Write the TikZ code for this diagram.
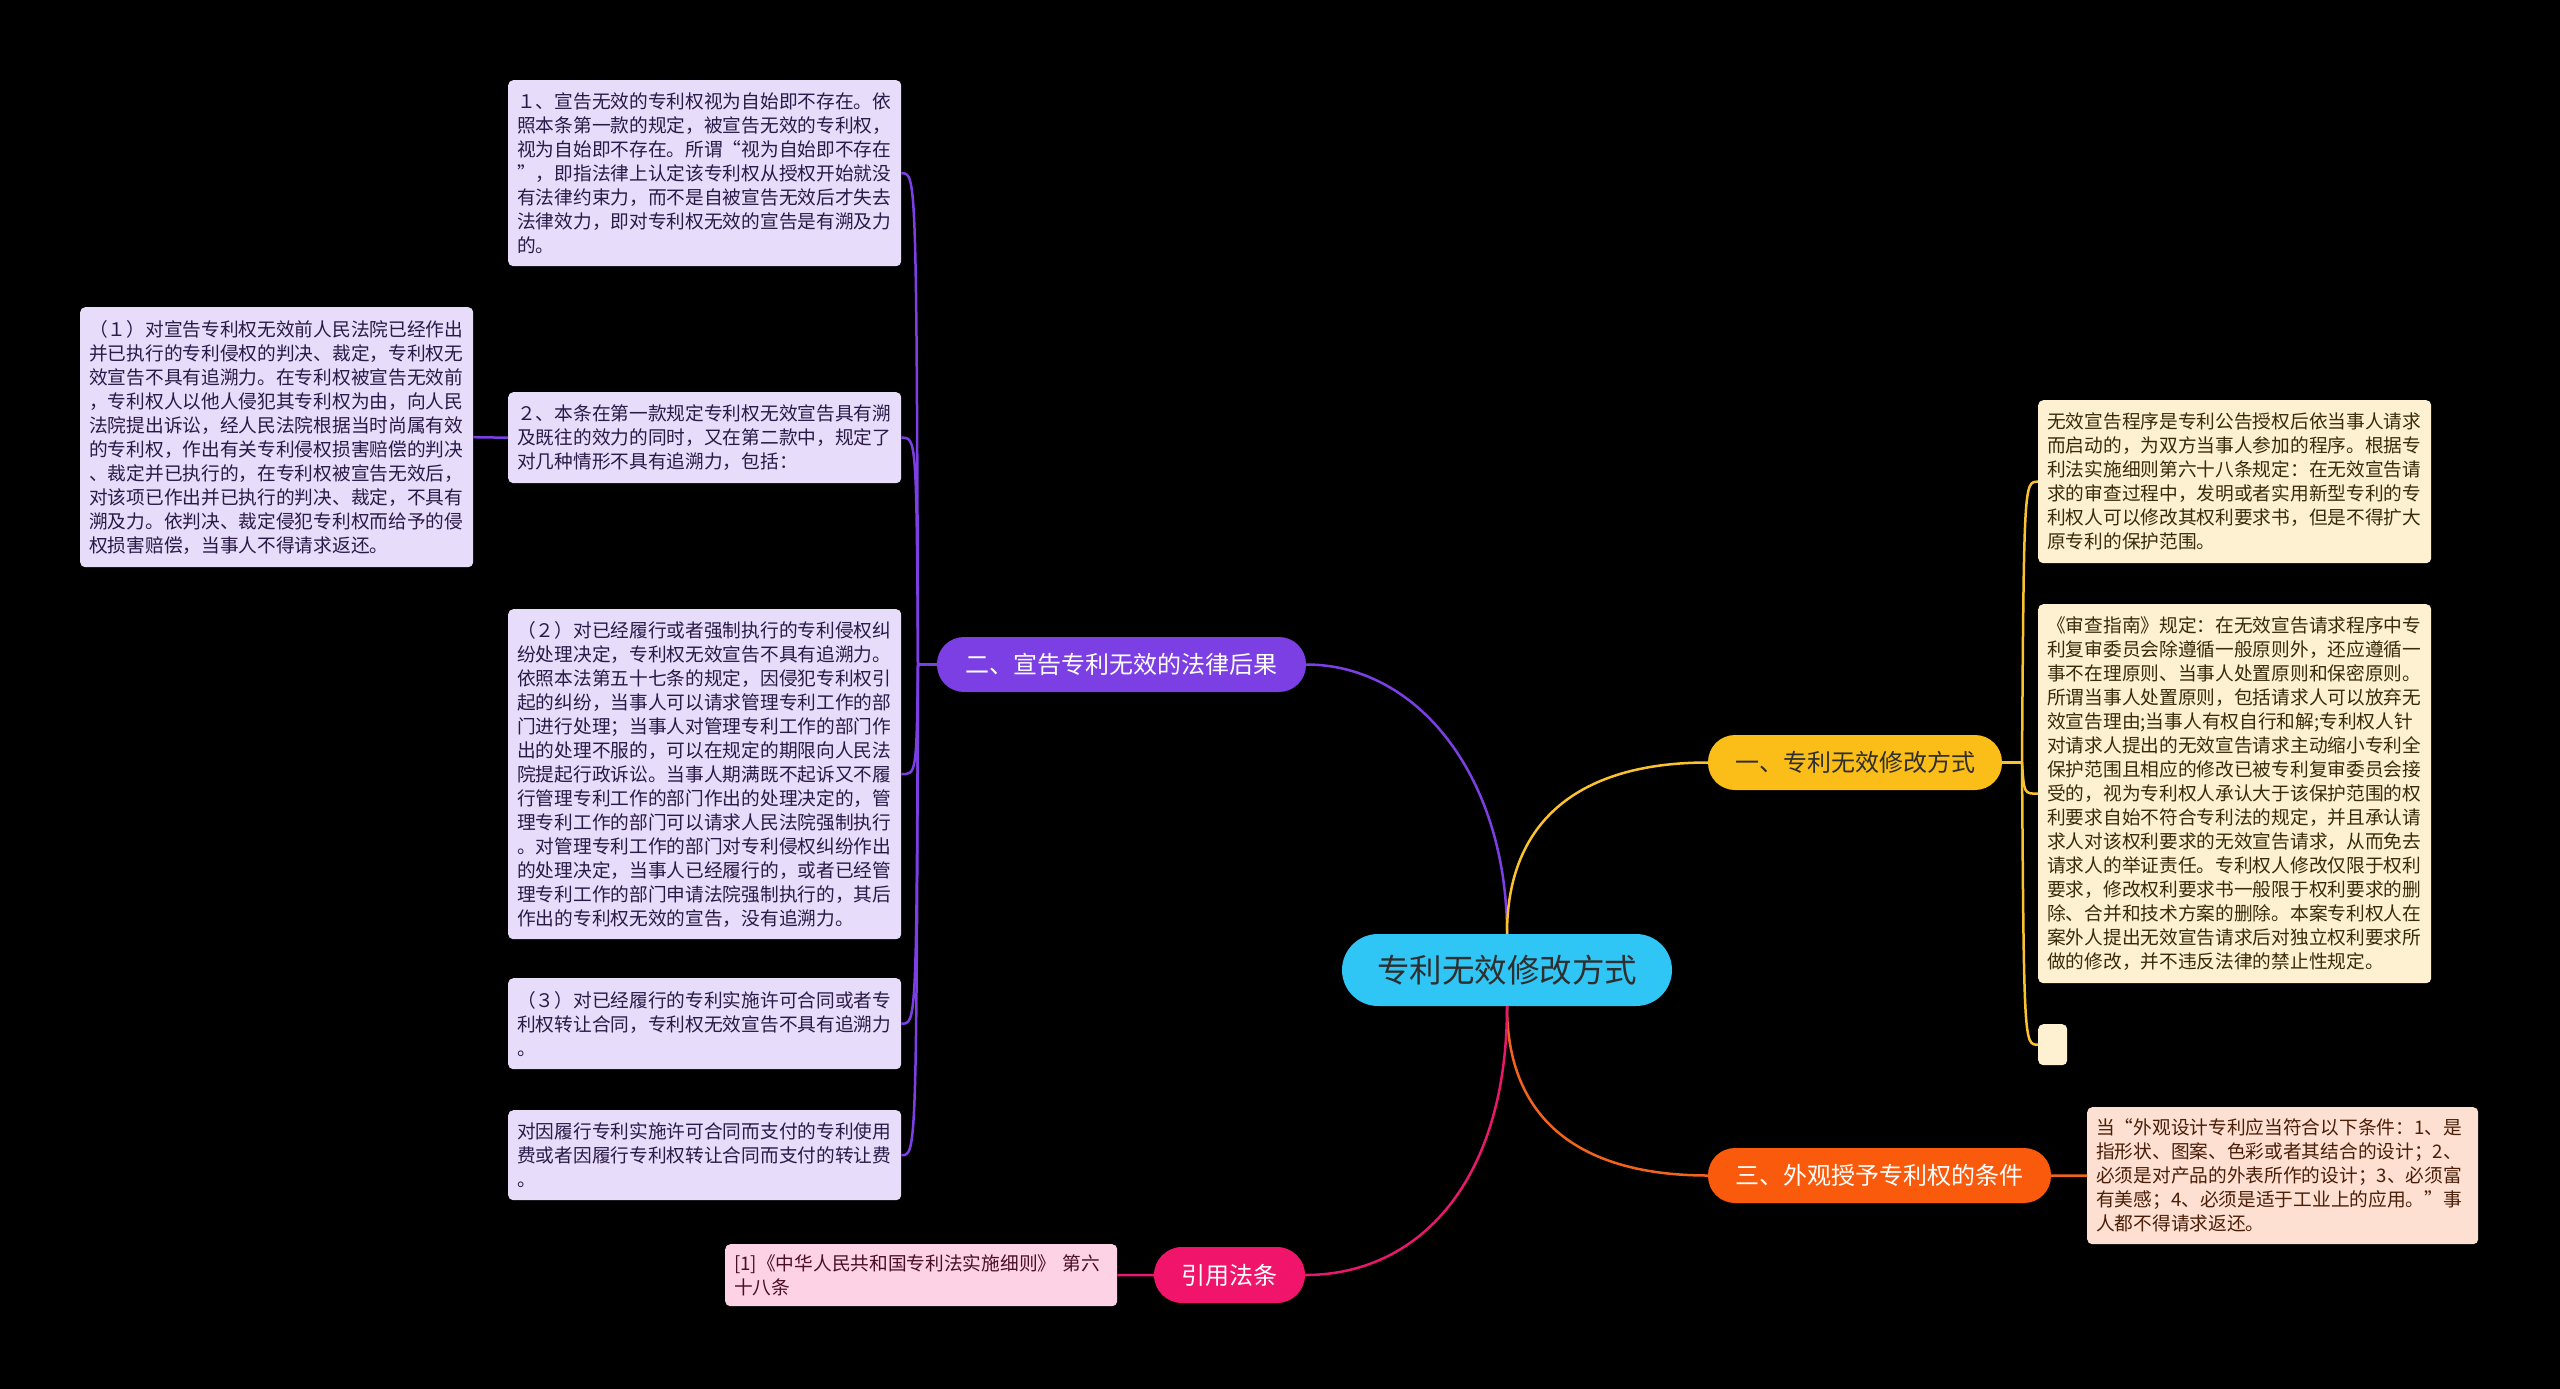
\documentclass[tikz,border=0pt]{standalone}
\usepackage{fontspec}
\usetikzlibrary{calc}
\newfontfamily\cjk{Noto Sans CJK SC}
\definecolor{cCenter}{HTML}{2FC5F5}
\definecolor{cYel}{HTML}{FBBD17}
\definecolor{cOra}{HTML}{FA5A0B}
\definecolor{cPur}{HTML}{7B3FE4}
\definecolor{cPnk}{HTML}{F0156B}
\definecolor{lYel}{HTML}{FDF1D2}
\definecolor{lPur}{HTML}{E7DCFA}
\definecolor{lOra}{HTML}{FDE0D2}
\definecolor{lPnk}{HTML}{FCD2E4}
\definecolor{tYel}{HTML}{3A2A0C}
\definecolor{tPur}{HTML}{2A1A47}
\definecolor{tOra}{HTML}{4A1E08}
\definecolor{tPnk}{HTML}{4A0E25}
\definecolor{tDark}{HTML}{2E2E2E}
\definecolor{lnYel}{HTML}{F9C22E}
\definecolor{lnOra}{HTML}{F2641C}
\definecolor{lnPur}{HTML}{7B3FE4}
\definecolor{lnPnk}{HTML}{E8186C}
\tikzset{
  leaf/.style={anchor=north west, rounded corners=5pt, inner xsep=9pt, inner ysep=0pt,
    text width=375pt, minimum width=393pt, align=left,
    font=\cjk\fontsize{18.7}{24}\selectfont},
  leafP/.style={leaf, fill=lPur, text=tPur},
  leafY/.style={leaf, fill=lYel, text=tYel},
  leafO/.style={leaf, fill=lOra, text=tOra},
  leafK/.style={leaf, fill=lPnk, text=tPnk},
  branch/.style={rounded corners=27pt, inner sep=0pt, minimum height=55pt,
    font=\cjk\fontsize{24}{28}\selectfont},
  conn/.style={line width=2.5pt},
}
\begin{document}
\begin{tikzpicture}[x=1pt,y=-1pt]
\fill[black] (0,0) rectangle (2560,1389);
\useasboundingbox (0,0) rectangle (2560,1389);

% center
\node[fill=cCenter, text=tDark, rounded corners=36pt, inner sep=0pt,
  minimum width=330pt, minimum height=72pt, font=\cjk\fontsize{32.5}{36}\selectfont]
  (c) at (1507,970) {专利无效修改方式};

% branches
\node[branch, fill=cYel, text=tDark, minimum width=294pt] (b1) at (1855,762.5) {一、专利无效修改方式};
\node[branch, fill=cOra, text=white, minimum width=343pt] (b3) at (1879.5,1175.5) {三、外观授予专利权的条件};
\node[branch, fill=cPur, text=white, minimum width=369pt] (b2) at (1121.5,664.5) {二、宣告专利无效的法律后果};
\node[branch, fill=cPnk, text=white, minimum width=151pt, minimum height=56pt, rounded corners=28pt] (b4) at (1229.5,1275) {引用法条};

% purple leaves
\node[leafP, minimum height=186pt] (p1) at (508,80) {１、宣告无效的专利权视为自始即不存在。依\\照本条第一款的规定，被宣告无效的专利权，\\视为自始即不存在。所谓“视为自始即不存在\\”，即指法律上认定该专利权从授权开始就没\\有法律约束力，而不是自被宣告无效后才失去\\法律效力，即对专利权无效的宣告是有溯及力\\的。};
\node[leafP, minimum height=91pt] (p2) at (508,392) {２、本条在第一款规定专利权无效宣告具有溯\\及既往的效力的同时，又在第二款中，规定了\\对几种情形不具有追溯力，包括：};
\node[leafP, minimum height=260pt] (p2a) at (80,307) {（１）对宣告专利权无效前人民法院已经作出\\并已执行的专利侵权的判决、裁定，专利权无\\效宣告不具有追溯力。在专利权被宣告无效前\\，专利权人以他人侵犯其专利权为由，向人民\\法院提出诉讼，经人民法院根据当时尚属有效\\的专利权，作出有关专利侵权损害赔偿的判决\\、裁定并已执行的，在专利权被宣告无效后，\\对该项已作出并已执行的判决、裁定，不具有\\溯及力。依判决、裁定侵犯专利权而给予的侵\\权损害赔偿，当事人不得请求返还。};
\node[leafP, minimum height=330pt] (p3) at (508,609) {（２）对已经履行或者强制执行的专利侵权纠\\纷处理决定，专利权无效宣告不具有追溯力。\\依照本法第五十七条的规定，因侵犯专利权引\\起的纠纷，当事人可以请求管理专利工作的部\\门进行处理；当事人对管理专利工作的部门作\\出的处理不服的，可以在规定的期限向人民法\\院提起行政诉讼。当事人期满既不起诉又不履\\行管理专利工作的部门作出的处理决定的，管\\理专利工作的部门可以请求人民法院强制执行\\。对管理专利工作的部门对专利侵权纠纷作出\\的处理决定，当事人已经履行的，或者已经管\\理专利工作的部门申请法院强制执行的，其后\\作出的专利权无效的宣告，没有追溯力。};
\node[leafP, minimum height=91pt] (p4) at (508,978) {（３）对已经履行的专利实施许可合同或者专\\利权转让合同，专利权无效宣告不具有追溯力\\。};
\node[leafP, minimum height=90pt] (p5) at (508,1110) {对因履行专利实施许可合同而支付的专利使用\\费或者因履行专利权转让合同而支付的转让费\\。};

% yellow leaves
\node[leafY, minimum height=163pt] (y1) at (2038,400) {无效宣告程序是专利公告授权后依当事人请求\\而启动的，为双方当事人参加的程序。根据专\\利法实施细则第六十八条规定：在无效宣告请\\求的审查过程中，发明或者实用新型专利的专\\利权人可以修改其权利要求书，但是不得扩大\\原专利的保护范围。};
\node[leafY, minimum height=379pt] (y2) at (2038,604) {《审查指南》规定：在无效宣告请求程序中专\\利复审委员会除遵循一般原则外，还应遵循一\\事不在理原则、当事人处置原则和保密原则。\\所谓当事人处置原则，包括请求人可以放弃无\\效宣告理由;当事人有权自行和解;专利权人针\\对请求人提出的无效宣告请求主动缩小专利全\\保护范围且相应的修改已被专利复审委员会接\\受的，视为专利权人承认大于该保护范围的权\\利要求自始不符合专利法的规定，并且承认请\\求人对该权利要求的无效宣告请求，从而免去\\请求人的举证责任。专利权人修改仅限于权利\\要求，修改权利要求书一般限于权利要求的删\\除、合并和技术方案的删除。本案专利权人在\\案外人提出无效宣告请求后对独立权利要求所\\做的修改，并不违反法律的禁止性规定。};
\node[anchor=north west, fill=lYel, rounded corners=5pt, inner sep=0pt,
  minimum width=29pt, minimum height=41pt] (y3) at (2038,1024) {};

% orange leaf
\node[leafO, minimum height=137pt, text width=373pt, minimum width=391pt] (o1) at (2087,1107) {当“外观设计专利应当符合以下条件：1、是\\指形状、图案、色彩或者其结合的设计；2、\\必须是对产品的外表所作的设计；3、必须富\\有美感；4、必须是适于工业上的应用。”事\\人都不得请求返还。};

% pink leaf
\node[leafK, minimum height=62pt, text width=374pt, minimum width=392pt] (k1) at (725,1244) {[1]《中华人民共和国专利法实施细则》 第六\\十八条};

% center connectors
\draw[conn, lnPur] (b2.east) .. controls (1420,664.5) and (1507,780) .. (c.north);
\draw[conn, lnYel] (c.north) .. controls (1507,820) and (1580,762.5) .. (b1.west);
\draw[conn, lnOra] (c.south) .. controls (1507,1120) and (1580,1175.5) .. (b3.west);
\draw[conn, lnPnk] (c.south) .. controls (1507,1180) and (1420,1275) .. (b4.east);

% purple branch connectors
\coordinate (jp) at (918,664.5);
\draw[conn, lnPur] (b2.west) -- (jp);
\foreach \n in {p1,p2,p3,p4,p5}{
  \draw[conn, lnPur] (jp) .. controls ($(\n.east)+(15,0)$) .. (\n.east);
}
\draw[conn, lnPur] (p2.west) -- (p2a.east);

% yellow branch connectors
\coordinate (jy) at (2022,762.5);
\draw[conn, lnYel] (b1.east) -- (jy);
\foreach \n in {y1,y2,y3}{
  \draw[conn, lnYel] (jy) .. controls ($(\n.west)+(-14,0)$) .. (\n.west);
}

% orange & pink
\draw[conn, lnOra] (b3.east) -- (o1.west);
\draw[conn, lnPnk] (b4.west) -- (k1.east);
\end{tikzpicture}
\end{document}
